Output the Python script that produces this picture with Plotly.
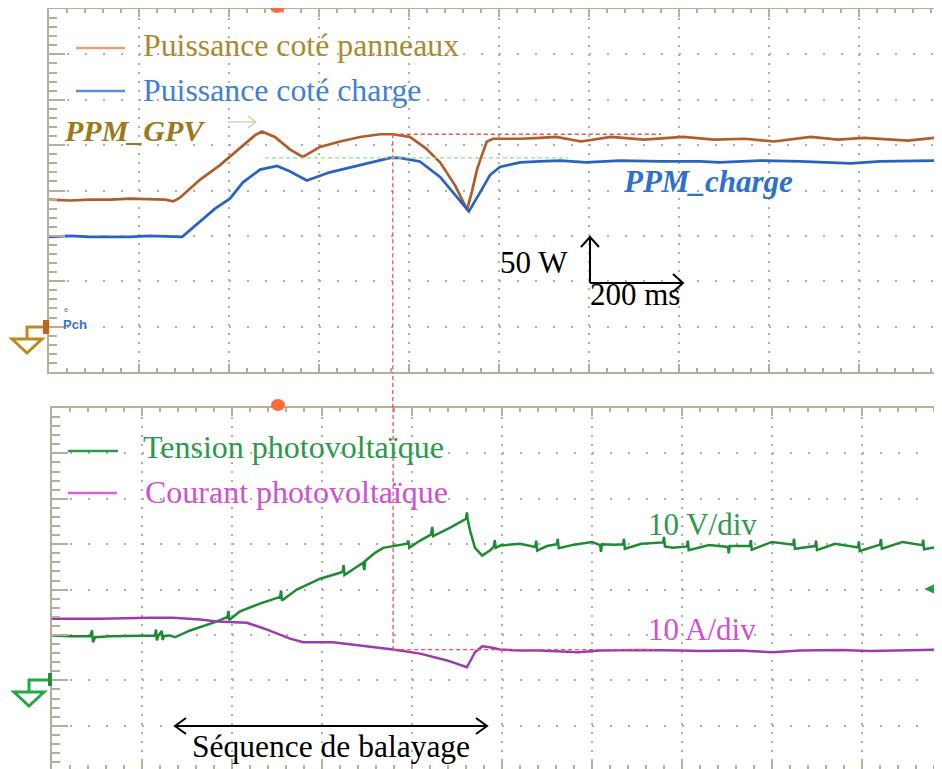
import plotly.graph_objects as go

# ---------------- data ----------------
# Upper screen: power, 50 W/div ; time 200 ms/div
t_gpv = [0, 47, 91, 136, 180, 224, 258, 276, 291, 313,
         336, 380, 424, 458, 473, 502, 536, 564, 602, 647,
         691, 736, 764, 802, 836, 869, 902, 929, 940, 951,
         962, 973, 987, 1013, 1047, 1091, 1127, 1182, 1249, 1322,
         1409, 1478, 1547, 1611, 1693, 1753, 1811, 1909, 1984]
p_gpv = [140, 139, 140, 140, 141, 140, 140, 138, 142, 152,
         162, 178, 197, 211, 215, 209, 195, 187, 198, 204,
         209, 212, 212, 209, 197, 181, 156, 129, 149, 173,
         189, 204, 207, 207, 207, 208, 209, 204, 209, 206,
         209, 206, 207, 204, 209, 206, 208, 205, 209]

t_ch = [0, 47, 91, 136, 180, 224, 269, 296, 336, 369,
        402, 431, 469, 507, 536, 573, 624, 691, 758, 780,
        824, 869, 902, 933, 958, 980, 1002, 1047, 1091, 1136,
        1193, 1269, 1358, 1447, 1489, 1580, 1669, 1782, 1847, 1936,
        1984]
p_ch = [99, 100, 99, 99, 99, 100, 99, 99, 116, 130,
        141, 159, 173, 177, 171, 161, 170, 178, 186, 186,
        182, 165, 145, 127, 148, 167, 176, 181, 182, 183,
        181, 183, 182, 182, 181, 183, 182, 180, 182, 183,
        183]

# Lower screen: PV voltage 10 V/div, PV current 10 A/div
t_v = [0, 40, 85, 89, 91, 96, 129, 173, 218, 229,
       231, 233, 236, 244, 246, 249, 262, 273, 307, 367,
       390, 392, 394, 418, 462, 507, 509, 511, 544, 596,
       640, 646, 648, 650, 691, 694, 696, 718, 736, 789,
       792, 794, 818, 842, 845, 847, 884, 920, 922, 924,
       929, 940, 956, 973, 982, 984, 986, 996, 1040, 1074,
       1076, 1078, 1100, 1122, 1124, 1126, 1160, 1200, 1218, 1220,
       1222, 1250, 1269, 1271, 1273, 1310, 1358, 1360, 1362, 1380,
       1411, 1413, 1415, 1460, 1502, 1504, 1506, 1551, 1553, 1555,
       1600, 1647, 1649, 1651, 1696, 1698, 1700, 1740, 1791, 1793,
       1795, 1840, 1842, 1844, 1890, 1934, 1936, 1938, 1978]
v_pv = [9.9, 9.7, 9.7, 11.0, 8.4, 9.5, 9.7, 9.8, 9.9, 9.9,
        11.2, 8.8, 9.8, 10.9, 8.9, 9.8, 9.9, 9.5, 11.0, 13.0,
        14.0, 15.3, 13.3, 15.2, 16.9, 18.4, 19.8, 17.6, 20.0, 22.4,
        23.7, 24.0, 25.4, 23.2, 25.9, 24.3, 26.3, 28.1, 29.2, 30.1,
        30.8, 29.2, 30.8, 32.1, 33.8, 31.8, 33.6, 35.6, 37.0, 35.4,
        33.0, 29.2, 27.5, 28.6, 29.5, 30.9, 29.2, 29.7, 30.1, 29.4,
        30.8, 28.6, 29.6, 30.0, 31.2, 29.1, 29.9, 30.5, 29.8, 28.3,
        30.0, 29.9, 30.0, 31.2, 29.0, 30.1, 30.4, 31.6, 29.5, 29.2,
        29.5, 30.8, 28.7, 29.8, 29.4, 28.0, 29.6, 29.6, 30.9, 28.8,
        30.5, 29.9, 31.2, 29.0, 29.6, 30.8, 28.7, 30.1, 29.3, 30.6,
        28.5, 29.9, 31.1, 29.0, 30.5, 29.8, 31.0, 28.9, 29.6]

t_i = [0, 107, 218, 269, 329, 367, 433, 478, 529, 558,
       624, 700, 758, 818, 878, 922, 940, 956, 973, 996,
       1040, 1084, 1169, 1218, 1307, 1396, 1440, 1529, 1602, 1662,
       1751, 1818, 1884, 1978]
i_pv = [13.6, 13.6, 13.8, 13.8, 13.4, 13.0, 12.7, 11.2, 9.2, 8.4,
        8.4, 7.5, 6.8, 5.9, 4.4, 2.9, 6.2, 7.5, 7.3, 6.8,
        6.6, 6.6, 6.2, 6.6, 6.7, 6.6, 6.5, 6.6, 6.2, 6.6,
        6.7, 6.5, 6.6, 6.8]

# maximum-power markers
T_MPP = 764          # ms (upper screen)
T_MPP_PV = 758       # ms (lower screen)
P_MPP_GPV = 212      # W
P_MPP_CH = 186       # W
I_MPP = 6.8          # A
T_RED_END = 1360
T_GREEN_START, T_GREEN_END = 480, 1153
T_RED2_END = 1338

# ---------------- geometry / styles ----------------
VW, VH = 942, 769          # browser window
OFF = 8                    # page body margin
W, H = VW - OFF, VH - OFF  # figure size
BORDER = "#B5AE98"
GRID = "#AEAEAE"
SERIF = "Liberation Serif"


def px(x):
    """window pixel -> paper x"""
    return (x - OFF) / W


def py(y):
    """window pixel -> paper y"""
    return 1 - (y - OFF) / H


top_dom = [py(372), py(9)]
bot_dom = [0, py(408)]
x_top_dom = [px(49), 1]
x_bot_dom = [px(52), 1]
x_top_range = [0, (VW - 49) / 90 * 200]
x_bot_range = [0, (VW - 52) / 90 * 200]
y_top_range = [-50, 350]
y_bot_range = [60 - (VH - 408) / 45.4 * 10, 60]

fig = go.Figure()
fig.add_trace(go.Scatter(x=t_gpv, y=p_gpv, mode="lines", xaxis="x", yaxis="y",
                         line=dict(color="#AE5E2C", width=2.7)))
fig.add_trace(go.Scatter(x=t_ch, y=p_ch, mode="lines", xaxis="x", yaxis="y",
                         line=dict(color="#2A62C2", width=2.7)))
fig.add_trace(go.Scatter(x=t_v, y=v_pv, mode="lines", xaxis="x2", yaxis="y2",
                         line=dict(color="#1E8A34", width=2.5)))
fig.add_trace(go.Scatter(x=t_i, y=i_pv, mode="lines", xaxis="x2", yaxis="y2",
                         line=dict(color="#9C3CAC", width=2.5)))


def xax(dom, rng, anchor):
    return dict(domain=dom, range=rng, anchor=anchor, dtick=200, tick0=0,
                showgrid=True, gridcolor=GRID, gridwidth=2, griddash="2px,7px",
                showline=True, linecolor=BORDER, linewidth=2, mirror="ticks",
                ticks="inside", ticklen=8, tickwidth=1.5, tickcolor=BORDER,
                minor=dict(ticks="inside", ticklen=4, dtick=40, tickwidth=1.5,
                           tickcolor=BORDER, showgrid=False),
                showticklabels=False, zeroline=False, fixedrange=True)


def yax(dom, rng, anchor, dt):
    return dict(domain=dom, range=rng, anchor=anchor, dtick=dt, tick0=0,
                showgrid=True, gridcolor=GRID, gridwidth=2, griddash="2px,16px",
                showline=True, linecolor=BORDER, linewidth=2,
                ticks="inside", ticklen=16, tickwidth=1.5, tickcolor=BORDER,
                minor=dict(ticks="inside", ticklen=8, dtick=dt / 5, tickwidth=1.5,
                           tickcolor=BORDER, showgrid=False),
                showticklabels=False, zeroline=False, fixedrange=True)


def yright(dom, rng, anchor, over, dt):
    return dict(domain=dom, range=rng, anchor=anchor, overlaying=over, side="right",
                dtick=dt, tick0=0, showgrid=False, showline=False,
                ticks="inside", ticklen=10, tickwidth=1.5, tickcolor=BORDER,
                showticklabels=False, zeroline=False, fixedrange=True)


fig.update_layout(
    width=W, height=H, margin=dict(l=0, r=0, t=0, b=0),
    paper_bgcolor="white", plot_bgcolor="white", showlegend=False,
    xaxis=xax(x_top_dom, x_top_range, "y"),
    yaxis=yax(top_dom, y_top_range, "x", 50),
    xaxis2=xax(x_bot_dom, x_bot_range, "y2"),
    yaxis2=yax(bot_dom, y_bot_range, "x2", 10),
    yaxis3=yright(top_dom, y_top_range, "x", "y", 50),
    yaxis4=yright(bot_dom, y_bot_range, "x2", "y2", 10),
)

shapes = []
RED = "#F05252"
RDASH = dict(color=RED, width=1.3, dash="4px,3px")
# reference lines
shapes.append(dict(type="line", xref="x", yref="y", x0=T_MPP, x1=T_MPP,
                   y0=P_MPP_GPV, y1=y_top_range[0], line=RDASH))
shapes.append(dict(type="line", xref="x", yref="paper", x0=T_MPP, x1=T_MPP,
                   y0=bot_dom[1], y1=top_dom[0], line=RDASH))
shapes.append(dict(type="line", xref="x2", yref="y2", x0=T_MPP_PV, x1=T_MPP_PV,
                   y0=y_bot_range[1], y1=I_MPP, line=RDASH))
shapes.append(dict(type="line", xref="x", yref="y", x0=T_MPP, x1=T_RED_END,
                   y0=P_MPP_GPV, y1=P_MPP_GPV, line=RDASH))
shapes.append(dict(type="line", xref="x2", yref="y2", x0=T_MPP_PV, x1=T_RED2_END,
                   y0=I_MPP, y1=I_MPP, line=RDASH))
shapes.append(dict(type="line", xref="x", yref="y", x0=T_GREEN_START, x1=T_GREEN_END,
                   y0=P_MPP_CH, y1=P_MPP_CH, line=dict(color="#8EE08E", width=1.3, dash="4px,3px")))


def seg(x0, y0, x1, y1, color, width=2):
    return dict(type="line", xref="paper", yref="paper", x0=px(x0), y0=py(y0),
                x1=px(x1), y1=py(y1), line=dict(color=color, width=width))


def poly(pts, color, width=2, close=False, fill=None):
    d = "M " + " L ".join(f"{px(a):.5f},{py(b):.5f}" for a, b in pts)
    if close:
        d += " Z"
    s = dict(type="path", xref="paper", yref="paper", path=d,
             line=dict(color=color, width=width))
    if fill:
        s["fillcolor"] = fill
    return s


# legend samples
shapes.append(seg(76, 48, 125, 48, "#E8A070", 2.5))
shapes.append(seg(76, 91, 125, 91, "#5A8EDD", 2.5))
shapes.append(seg(68, 451, 118, 451, "#2A9A44", 2.5))
shapes.append(seg(68, 493, 117, 493, "#D860D8", 2.5))

# ground markers
GOLD = "#BC8A1C"
shapes.append(dict(type="rect", xref="paper", yref="paper", x0=px(43), x1=px(49),
                   y0=py(334), y1=py(320), fillcolor="#C0641A", line=dict(width=0)))
shapes.append(poly([(43, 327), (27, 327), (27, 339)], GOLD, 3))
shapes.append(poly([(12, 339), (42, 339), (27, 353)], GOLD, 3, close=True))
GRN = "#22A844"
shapes.append(dict(type="rect", xref="paper", yref="paper", x0=px(48), x1=px(52),
                   y0=py(686), y1=py(673), fillcolor="#2A8A3A", line=dict(width=0)))
shapes.append(poly([(48, 680), (29, 680), (29, 692)], GRN, 3))
shapes.append(poly([(14, 692), (44, 692), (29, 706)], GRN, 3, close=True))

# trigger markers
for cx, cy in [(277, 7), (278, 405)]:
    shapes.append(dict(type="circle", xref="paper", yref="paper", x0=px(cx - 7), x1=px(cx + 7),
                       y0=py(cy + 6), y1=py(cy - 6), fillcolor="#FF6A3A", line=dict(width=0)))

# scale arrows
shapes.append(seg(590, 283, 590, 237, "black", 2))
shapes.append(poly([(581, 247), (590, 237), (599, 247)], "black", 2))
shapes.append(seg(590, 283, 683, 283, "black", 2))
shapes.append(poly([(673, 274), (683, 283), (673, 292)], "black", 2))
# sweep double arrow
shapes.append(seg(175, 726, 487, 726, "black", 2))
shapes.append(poly([(186, 718), (175, 726), (186, 734)], "black", 2))
shapes.append(poly([(476, 718), (487, 726), (476, 734)], "black", 2))
# thin arrow after PPM_GPV
shapes.append(seg(228, 122, 256, 122, "#C8C8A4", 1.2))
shapes.append(poly([(248, 116), (256, 122), (248, 128)], "#C8C8A4", 1.2))
# right-edge channel marker
shapes.append(seg(931, 589, 942, 589, "#2A9A40", 2))
shapes.append(poly([(925, 589), (934, 585), (934, 593)], "#2A9A40", 1, close=True, fill="#2A9A40"))

fig.update_layout(shapes=shapes)


def txt(s, x, y, color, size=31, family=SERIF):
    fig.add_annotation(text=s, x=px(x), y=py(y), xref="paper", yref="paper",
                       xanchor="left", yanchor="middle", showarrow=False,
                       borderpad=0, font=dict(family=family, size=size, color=color))


txt("Puissance coté panneaux", 142, 45, "#A98A30", 31.8)
txt("Puissance coté charge", 142, 90, "#3F80D5", 31.8)
txt("<b><i>PPM_GPV</i></b>", 63, 130, "#9A7A1A", 30)
txt("<b><i>PPM_charge</i></b>", 622, 181, "#2F70CC", 31)
txt("50 W", 499, 262, "black")
txt("200 ms", 589, 294, "black")
txt("Tension photovoltaïque", 142, 447, "#2A9A4A", 32)
txt("Courant photovoltaïque", 144, 492, "#D050D0", 32)
txt("10 V/div", 647, 524, "#2E9A4E")
txt("10 A/div", 647, 629, "#D050D0")
txt("Séquence de balayage", 191, 746, "black", 31.5)
txt("<b>Pch</b>", 62, 324, "#3A72D0", 13, "Liberation Sans")
txt("e", 63, 309, "#C07030", 8, "Liberation Sans")

fig.write_html("out.html")
